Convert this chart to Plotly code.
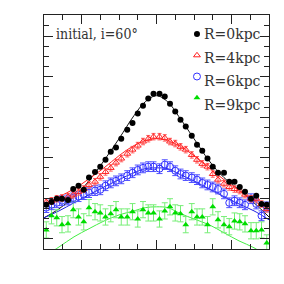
import plotly.graph_objects as go

# projected position (arbitrary units)
x_pts = [-1.47, -1.40, -1.33, -1.26, -1.18, -1.11, -1.04, -0.97, -0.90, -0.82, -0.75,
         -0.68, -0.61, -0.54, -0.47, -0.39, -0.32, -0.25, -0.18, -0.11, -0.04,
         0.04, 0.11, 0.18, 0.25, 0.32, 0.39, 0.47, 0.54, 0.61, 0.68, 0.75,
         0.82, 0.90, 0.97, 1.04, 1.11, 1.18, 1.26, 1.33, 1.40, 1.47]

r0_vals = [0.84, 0.91, 0.99, 0.99, 0.96, 1.23, 1.31, 1.21, 1.51, 1.65, 1.78,
           1.95, 2.15, 2.25, 2.47, 2.69, 2.86, 3.09, 3.28, 3.46, 3.58,
           3.58, 3.51, 3.33, 3.14, 2.94, 2.77, 2.54, 2.32, 2.17, 1.98, 1.78,
           1.63, 1.63, 1.41, 1.41, 1.28, 1.16, 0.99, 1.06, 0.86, 0.84]

r4_vals = [0.91, 0.94, 0.99, 1.01, 1.04, 1.09, 1.16, 1.23, 1.33, 1.41, 1.53,
           1.65, 1.75, 1.88, 1.98, 2.10, 2.20, 2.30, 2.40, 2.47, 2.52,
           2.52, 2.49, 2.40, 2.35, 2.27, 2.20, 2.07, 1.95, 1.85, 1.78, 1.60,
           1.46, 1.36, 1.28, 1.23, 1.19, 1.09, 0.99, 0.99, 0.86, 0.74]

r6_vals = [0.77, 0.84, 0.89, 0.94, 0.96, 1.01, 1.04, 1.09, 1.14, 1.19, 1.21,
           1.31, 1.38, 1.43, 1.48, 1.56, 1.63, 1.70, 1.75, 1.78, 1.78,
           1.73, 1.83, 1.78, 1.68, 1.60, 1.56, 1.51, 1.46, 1.38, 1.33, 1.28,
           1.23, 1.11, 0.89, 0.94, 0.89, 0.84, 0.99, 0.86, 0.57, 0.79]

r9_vals = [0.22, 0.57, 0.52, 0.35, 0.37, 0.72, 0.54, 0.42, 0.77, 0.67, 0.64,
           0.54, 0.62, 0.72, 0.54, 0.54, 0.67, 0.49, 0.72, 0.64, 0.64,
           0.49, 0.69, 0.79, 0.64, 0.62, 0.35, 0.67, 0.54, 0.54, 0.35, 0.79,
           0.47, 0.35, 0.30, 0.44, 0.42, 0.37, 0.20, 0.20, 0.22, -0.10]

r4_err = 0.08
r6_err = 0.12
r9_err = 0.20

# model curves
x_line = [-1.5, -1.3, -1.1, -0.9, -0.7, -0.5, -0.3, -0.15, 0.0,
          0.15, 0.3, 0.5, 0.7, 0.9, 1.1, 1.3, 1.5]
r0_line = [0.52, 0.74, 1.04, 1.43, 1.93, 2.47, 3.04, 3.38, 3.53,
           3.38, 3.01, 2.47, 1.93, 1.51, 1.21, 0.89, 0.54]
r4_line = [0.86, 1.04, 1.23, 1.48, 1.75, 2.05, 2.30, 2.42, 2.47,
           2.42, 2.30, 2.05, 1.75, 1.46, 1.19, 0.94, 0.69]
r6_line = [0.52, 0.69, 0.89, 1.09, 1.28, 1.46, 1.63, 1.73, 1.75,
           1.73, 1.60, 1.43, 1.23, 1.04, 0.86, 0.69, 0.47]
r9_line = [-0.44, -0.20, 0.05, 0.25, 0.44, 0.59, 0.69, 0.77, 0.79,
           0.77, 0.64, 0.49, 0.35, 0.15, -0.05, -0.22, -0.47]

labels = ["R=0kpc", "R=4kpc", "R=6kpc", "R=9kpc"]
title_text = "initial, i=60°"

fig = go.Figure()

# lines
for xl, yl, col in [(x_line, r0_line, "#111111"), (x_line, r4_line, "#ff2020"),
                    (x_line, r6_line, "#2020e0"), (x_line, r9_line, "#44ee44")]:
    fig.add_trace(go.Scatter(x=xl, y=yl, mode="lines", line=dict(color=col, width=1, shape="spline"),
                             showlegend=False, hoverinfo="skip"))

fig.add_trace(go.Scatter(x=x_pts, y=r9_vals, mode="markers", name=" ", legendgroup="d",
                         marker=dict(symbol="triangle-up", size=6, color="#00dd00"),
                         error_y=dict(type="constant", value=r9_err, color="#77ee77", thickness=1, width=3)))
fig.add_trace(go.Scatter(x=x_pts, y=r6_vals, mode="markers", name=" ", legendgroup="c",
                         marker=dict(symbol="circle-open", size=7, color="#3030ff", line=dict(width=1)),
                         error_y=dict(type="constant", value=r6_err, color="#5050ff", thickness=1, width=3)))
fig.add_trace(go.Scatter(x=x_pts, y=r4_vals, mode="markers", name=" ", legendgroup="b",
                         marker=dict(symbol="triangle-up-open", size=6, color="#ff2020", line=dict(width=1)),
                         error_y=dict(type="constant", value=r4_err, color="#ff6060", thickness=1, width=2)))
fig.add_trace(go.Scatter(x=x_pts, y=r0_vals, mode="markers", name=" ", legendgroup="a",
                         marker=dict(symbol="circle", size=6, color="#000000")))

axis_common = dict(showline=True, linecolor="#222222", linewidth=1.2, mirror="ticks",
                   ticks="inside", ticklen=9, tickcolor="#222222", tickwidth=1,
                   showticklabels=False, showgrid=False, zeroline=False)

fig.update_xaxes(range=[-1.5, 1.5], tickmode="linear", tick0=0, dtick=1,
                 minor=dict(tickmode="linear", tick0=0, dtick=0.25, ticks="inside", ticklen=5,
                            tickcolor="#222222", showgrid=False),
                 **axis_common)
fig.update_yaxes(range=[-0.25, 5.52], tickmode="linear", tick0=0, dtick=1,
                 minor=dict(tickmode="linear", tick0=0, dtick=0.25, ticks="inside", ticklen=5,
                            tickcolor="#222222", showgrid=False),
                 **axis_common)

fig.add_annotation(text=title_text, xref="paper", yref="paper", x=0.045, y=0.919,
                   xanchor="left", yanchor="middle", showarrow=False,
                   font=dict(family="DejaVu Serif Condensed, DejaVu Serif", size=14, color="#333333"))

legend_y = [0.919, 0.816, 0.718, 0.615]
for lab, ly in zip(labels, legend_y):
    fig.add_annotation(text=lab, xref="paper", yref="paper", x=0.700, y=ly,
                       xanchor="left", yanchor="middle", showarrow=False,
                       font=dict(family="DejaVu Serif", size=14, color="#333333"))

fig.update_layout(
    width=284, height=284,
    margin=dict(l=44, r=15, t=15, b=35),
    paper_bgcolor="white", plot_bgcolor="white",
    legend=dict(x=0.591, y=0.985, xanchor="left", yanchor="top", traceorder="reversed",
                font=dict(family="DejaVu Serif", size=14, color="#333333"),
                bgcolor="rgba(0,0,0,0)", tracegroupgap=10, itemwidth=30),
)

fig.write_html("out.html", post_script="document.body.style.margin='0';",
               config={"displayModeBar": False})
